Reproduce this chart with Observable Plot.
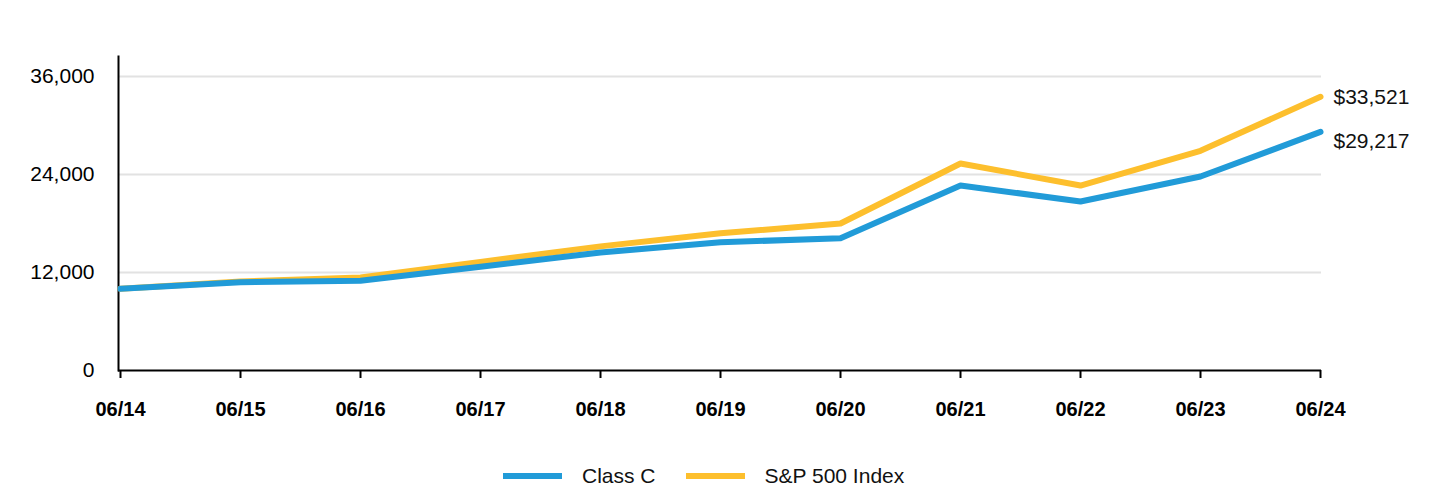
<!DOCTYPE html>
<html>
<head>
<meta charset="utf-8">
<script src="https://cdn.jsdelivr.net/npm/d3@7"></script>
<script src="https://cdn.jsdelivr.net/npm/@observablehq/plot@0.6"></script>
<style>
  body { margin: 0; background: #fff; font-family: "Liberation Sans", Arial, sans-serif; }
  #chart svg { display: block; }
  #chart g[aria-label="y-axis tick label"] { font-size: 21px; }
  #chart g[aria-label="x-axis tick label"] { font-size: 20px; font-weight: bold; }
  .legend { display: flex; justify-content: flex-start; align-items: center; padding-left: 503px; height: 24px; margin-top: 34px; font-size: 21px; color: #111; line-height: 24px; }
  .legend .item { display: flex; align-items: center; margin-right: 30px; }
  .legend .sw { width: 59px; height: 6px; margin-right: 20px; }
</style>
</head>
<body>
<div id="chart"></div>
<div class="legend" id="legend"></div>
<script>
const periods = ["06/14","06/15","06/16","06/17","06/18","06/19","06/20","06/21","06/22","06/23","06/24"];
const classC = [10000, 10800, 11000, 12700, 14450, 15700, 16200, 22650, 20700, 23750, 29217];
const sp500  = [10000, 10900, 11400, 13300, 15200, 16800, 18000, 25350, 22650, 26900, 33521];
const seriesNames = ["Class C", "S&P 500 Index"];
const colors = ["#219bd8", "#fdbf2d"];
const yTicks = [0, 12000, 24000, 36000];

const rows = [];
periods.forEach((p, i) => {
  rows.push({period: p, value: classC[i], series: seriesNames[0]});
  rows.push({period: p, value: sp500[i], series: seriesNames[1]});
});
const last = periods.length - 1;
const fmt = d => "$" + d3.format(",")(d.value);

const chart = Plot.plot({
  width: 1440,
  height: 430,
  marginLeft: 118,
  marginRight: 119,
  marginTop: 56,
  marginBottom: 60,
  style: {fontFamily: '"Liberation Sans", Arial, sans-serif', color: "#000", background: "#fff", overflow: "visible"},
  x: {type: "point", domain: periods, padding: 0, label: null},
  y: {domain: [0, 38450], label: null},
  marks: [
    Plot.gridY(yTicks.filter(d => d > 0), {stroke: "#e2e2e2", strokeOpacity: 1, strokeWidth: 2}),
    Plot.axisY({ticks: yTicks, tickSize: 0, tickPadding: 24, fontSize: 21, tickFormat: d3.format(",")}),
    Plot.axisX({tickSize: 8, tickPadding: 23, fontSize: 20, fontWeight: "bold", stroke: "#000", strokeWidth: 2}),
    Plot.frame({anchor: "left", stroke: "#000", strokeWidth: 2}),
    Plot.ruleY([0], {stroke: "#000", strokeWidth: 2}),
    Plot.line(rows.filter(d => d.series === seriesNames[1]), {x: "period", y: "value", stroke: colors[1], strokeWidth: 6}),
    Plot.line(rows.filter(d => d.series === seriesNames[0]), {x: "period", y: "value", stroke: colors[0], strokeWidth: 6}),
    Plot.text([{period: periods[last], value: sp500[last]}], {x: "period", y: "value", text: fmt, dx: 13, dy: 1, textAnchor: "start", fontSize: 21, fill: "#111"}),
    Plot.text([{period: periods[last], value: classC[last]}], {x: "period", y: "value", text: fmt, dx: 13, dy: 9, textAnchor: "start", fontSize: 21, fill: "#111"}),
  ]
});
document.getElementById("chart").appendChild(chart);

const legend = document.getElementById("legend");
seriesNames.forEach((name, i) => {
  const item = document.createElement("div");
  item.className = "item";
  const sw = document.createElement("span");
  sw.className = "sw";
  sw.style.background = colors[i];
  const t = document.createElement("span");
  t.textContent = name;
  item.appendChild(sw);
  item.appendChild(t);
  legend.appendChild(item);
});
</script>
</body>
</html>
